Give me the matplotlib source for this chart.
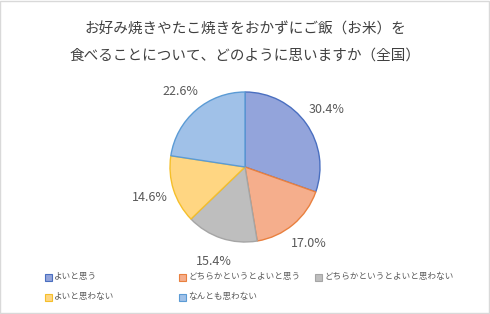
import matplotlib.pyplot as plt
from matplotlib.patches import Rectangle

plt.rcParams['font.family'] = ['Noto Sans CJK JP', 'DejaVu Sans']

title_lines = ['お好み焼きやたこ焼きをおかずにご飯（お米）を',
               '食べることについて、どのように思いますか（全国）']
categories = ['よいと思う', 'どちらかというとよいと思う', 'どちらかというとよいと思わない',
              'よいと思わない', 'なんとも思わない']
values = [30.4, 17.0, 15.4, 14.6, 22.6]
fills = ['#93a4db', '#f5ae8c', '#bebebe', '#ffd682', '#a0c1e8']
edges = ['#4a6fc0', '#e9803f', '#a5a5a5', '#f5bf2a', '#5b9bd5']

fig = plt.figure(figsize=(4.9, 3.14), dpi=100)
fig.patches.append(Rectangle((0.001, 0.002), 0.997, 0.995, transform=fig.transFigure,
                             fill=False, edgecolor='#d9d9d9', lw=1))

# two title lines, spaced like the original
for line, ypx in zip(title_lines, [30, 56]):
    fig.text(0.5, 1 - ypx / 314, line, ha='center', va='center', fontsize=10.5,
             color='#404040')

ax = fig.add_axes([(245 - 75) / 490, (314 - 167 - 75) / 314, 150 / 490, 150 / 314])
labels = [f'{v:.1f}%' for v in values]
wedges, texts = ax.pie(values, colors=fills, startangle=90, counterclock=False,
                       labels=labels, labeldistance=1.33,
                       wedgeprops=dict(linewidth=1))
for w, ec in zip(wedges, edges):
    w.set_edgecolor(ec)
for t in texts:
    t.set_ha('center')
    t.set_va('center')
    t.set_fontsize(9)
    t.set_color('#595959')
ax.set_xlim(-1, 1)
ax.set_ylim(-1, 1)
ax.set_aspect('equal')

# legend entries placed like Excel's fixed-width columns
slots = [(48, 277), (182, 277), (318, 277), (48, 297), (182, 297)]
for (px, py), name, fc, ec in zip(slots, categories, fills, edges):
    fig.patches.append(Rectangle((px / 490 - 3.5 / 490, 1 - py / 314 - 3.5 / 314),
                                 7 / 490, 7 / 314, transform=fig.transFigure,
                                 facecolor=fc, edgecolor=ec, lw=0.8))
    fig.text((px + 6) / 490, 1 - py / 314, name, ha='left', va='center',
             fontsize=6.2, color='#595959')

fig.savefig('out.png', dpi=100)
